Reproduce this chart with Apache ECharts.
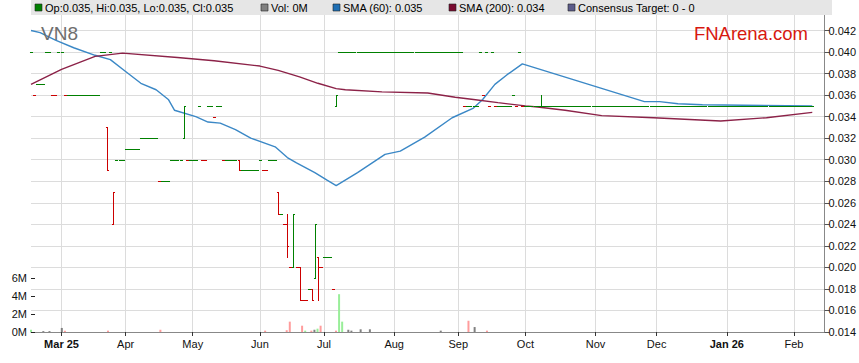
<!DOCTYPE html>
<html><head><meta charset="utf-8">
<script src="https://cdn.jsdelivr.net/npm/echarts@6/dist/echarts.min.js"></script>
<style>html,body{margin:0;padding:0;background:#fff}#c{width:859px;height:363px}</style>
</head><body><div id="c"></div>
<script>
// ---------------- DATA ----------------
// trading-day axis: weekdays from 2025-02-17 to 2026-02-16
const firstDay = '2025-02-17';
const dayCount = 261;
// month tick labels, placed on the first weekday of each month
const xTickLabels = ['Mar 25','Apr','May','Jun','Jul','Aug','Sep','Oct','Nov','Dec','Jan 26','Feb'];
const boldTickLabels = ['Mar 25','Jan 26'];
// daily prices in tenths of a cent (40 = 0.040); a number = open=high=low=close, array = [open, high, low, close]
const ohlc = [
  40, 36, 37, 37, 37,
  40, 40, 36, 36, 40,
  40, 36, 36, 36, 36,
  36, 36, 36, 36, 36,
  36, 36, 36, 40, 40,
  [33,33,29,29], 40, [24,27,24,27], 30, 30,
  30, 31, 31, 31, 31,
  31, 32, 32, 32, 32,
  32, 32, 28, 28, 28,
  28, 30, 30, 30, 30,
  [32,35,32,35], 30, 30, 30, 30,
  35, 30, 30, 35, 35,
  34, 35, 35, 30, 30,
  30, 30, 30, [30,30,29,29], 29,
  29, 29, 29, 29, 29,
  30, 29, 29, 30, 30,
  30, [27,27,25,25], 25, 24, [24,25,21,22],
  20, [20,25,20,25], 20, [20,20,17,17], 17,
  17, 18, [18,18,17,17], [19,24,19,24], [21,21,17,20],
  20, 21, 21, 21, 18,
  [35,36,35,36], 40, 40, 40, 40,
  40, 40, 40, 40, 40,
  40, 40, 40, 40, 40,
  40, 40, 40, 40, 40,
  40, 40, 40, 40, 40,
  40, 40, 40, 40, 40,
  40, 40, 40, 40, 40,
  40, 40, 40, 40, 40,
  40, 40, 35, 35, 35,
  35, 35, 40, 36, 40,
  35, 40, 35, 35, 35,
  35, 35, 35, 36, 35,
  40, 35, 35, 35, 35,
  35, 35, [35,36,35,35], 35, 35,
  35, 35, 35, 35, 35,
  35, 35, 35, 35, 35,
  35, 35, 35, 35, 35,
  35, 35, 35, 35, 35,
  35, 35, 35, 35, 35,
  35, 35, 35, 35, 35,
  35, 35, 35, 35, 35,
  35, 35, 35, 35, 35,
  35, 35, 35, 35, 35,
  35, 35, 35, 35, 35,
  35, 35, 35, 35, 35,
  35, 35, 35, 35, 35,
  35, 35, 35, 35, 35,
  35, 35, 35, 35, 35,
  35, 35, 35, 35, 35,
  35, 35, 35, 35, 35,
  35, 35, 35, 35, 35,
  35, 35
];
// bar direction per day (u = up / unchanged, d = down), one group per week
const moves = 'uduuu uuddu uduuu uuuuu uuuuu duduu uuuuu uuuuu uuduu uuuuu ' +
  'uduuu udduu duudu uuudu uuuuu udduu ududd duddd dudud duuud ' +
  'uuuuu uuuuu uuuuu uuuuu uuuuu uuuuu uuuuu uuuuu uuduu uuudu ' +
  'duduu uuuud uduuu uuuuu uuuuu uuuuu uuuuu uuuuu uuuuu uuuuu ' +
  'uuuuu uuuuu uuuuu uuuuu uuuuu uuuuu uuuuu uuuuu uuuuu uuuuu uu';
// volume in millions: [date, volume, kind]
const volume = [
  ['2025-02-17',0.25,'up'],['2025-02-21',0.1,'flat'],['2025-02-25',0.1,'flat'],
  ['2025-03-03',0.45,'flat'],['2025-03-04',0.15,'down'],['2025-03-24',0.15,'down'],
  ['2025-04-16',0.25,'down'],['2025-06-03',0.15,'down'],['2025-06-12',0.2,'down'],
  ['2025-06-13',1.15,'down'],['2025-06-19',0.7,'down'],['2025-06-20',0.15,'up'],
  ['2025-06-24',0.15,'down'],['2025-06-25',0.25,'flat'],['2025-06-26',0.37,'up'],
  ['2025-06-27',0.7,'down'],['2025-07-04',0.15,'down'],['2025-07-07',4.2,'up'],
  ['2025-07-08',1.15,'up'],['2025-07-10',0.25,'flat'],['2025-07-11',0.15,'flat'],
  ['2025-07-16',0.3,'flat'],['2025-07-21',0.3,'flat'],['2025-08-21',0.15,'flat'],
  ['2025-09-03',1.25,'down'],['2025-09-05',0.55,'flat'],['2025-09-11',0.15,'down']
];
// moving averages: [date, value]
const sma60 = [
  ['2025-02-17',0.0420],['2025-02-20',0.0418],['2025-02-27',0.0411],['2025-03-07',0.0404],
  ['2025-03-18',0.0397],['2025-03-25',0.0393],['2025-04-01',0.0382],['2025-04-08',0.0371],
  ['2025-04-15',0.0365],['2025-04-21',0.0356],['2025-04-23',0.0346],['2025-05-02',0.0340],
  ['2025-05-08',0.0335],['2025-05-14',0.0334],['2025-05-21',0.0328],['2025-05-28',0.0320],
  ['2025-06-09',0.0312],['2025-06-13',0.0302],['2025-06-18',0.0297],['2025-06-26',0.0288],
  ['2025-07-02',0.0281],['2025-07-07',0.0276],['2025-07-16',0.0288],['2025-07-29',0.0305],
  ['2025-08-05',0.0308],['2025-08-15',0.0321],['2025-08-28',0.0339],['2025-09-08',0.0348],
  ['2025-09-11',0.0356],['2025-09-17',0.0370],['2025-09-23',0.0379],['2025-09-30',0.0389],
  ['2025-11-25',0.0354],['2025-12-02',0.0354],['2025-12-10',0.0352],['2025-12-22',0.0351],
  ['2026-02-10',0.0350]
];
const sma200 = [
  ['2025-02-17',0.0370],['2025-03-03',0.0384],['2025-03-18',0.0396],['2025-03-31',0.0399],
  ['2025-04-24',0.0395],['2025-05-12',0.0392],['2025-06-02',0.0387],['2025-06-10',0.0383],
  ['2025-06-19',0.0377],['2025-06-27',0.0371],['2025-07-07',0.0366],['2025-07-10',0.0365],
  ['2025-07-28',0.0363],['2025-08-18',0.0362],['2025-08-29',0.0358],['2025-09-08',0.0356],
  ['2025-09-18',0.0353],['2025-10-01',0.0350],['2025-10-07',0.0349],['2025-10-20',0.0346],
  ['2025-11-05',0.0341],['2025-11-28',0.0339],['2025-12-30',0.0336],['2026-01-20',0.0339],
  ['2026-02-10',0.0344]
];
const legendItems = [
  {label:'Op:0.035, Hi:0.035, Lo:0.035, Cl:0.035', color:'#008000'},
  {label:'Vol: 0M', color:'#808080'},
  {label:'SMA (60): 0.035', color:'#1f6fb4'},
  {label:'SMA (200): 0.034', color:'#7a0a30'},
  {label:'Consensus Target: 0 - 0', color:'#5c5c8a'}
];
const ticker = 'VN8';
const brand = 'FNArena.com';

// ---------------- BUILD ----------------
const days = [];
(function(){
  const d = new Date(firstDay + 'T00:00:00Z');
  while (days.length < dayCount) {
    const w = d.getUTCDay();
    if (w > 0 && w < 6) days.push(d.toISOString().slice(0,10));
    d.setUTCDate(d.getUTCDate() + 1);
  }
})();
const monthStart = {};
{
  let k = 0;
  for (let i = 1; i < days.length; i++) {
    if (days[i].slice(5,7) !== days[i-1].slice(5,7)) { monthStart[i] = xTickLabels[k++]; }
  }
}
const dirs = moves.replace(/\s+/g,'');
const ohlcData = ohlc.map((v, i) => {
  const a = Array.isArray(v) ? v : [v, v, v, v];
  return [i, a[0]/1000, a[1]/1000, a[2]/1000, a[3]/1000, dirs[i] === 'd' ? 0 : 1];
});
const volMap = {};
volume.forEach(v => volMap[v[0]] = v);
const volColors = {up:'#99ee99', down:'#ff9c9c', flat:'#808080'};
const volData = days.map(d => volMap[d] ? {value: volMap[d][1], itemStyle:{color: volColors[volMap[d][2]]}} : null);

const chart = echarts.init(document.getElementById('c'), null, {renderer:'svg'});
const FONT = 'Liberation Sans, Arial, sans-serif';
const gridLeft = 31, gridRight = 27, gridBottom = 31;

const graphics = [
  {type:'rect', shape:{x:31, y:0, width:801, height:15}, style:{fill:'#e6e6e6'}, z:100}
];
const legendX = [35, 261, 333, 449, 568];
legendItems.forEach((it, k) => {
  graphics.push({type:'rect', shape:{x:legendX[k], y:4, width:7, height:7}, style:{fill:it.color, stroke:'#222', lineWidth:0.6}, z:101});
  graphics.push({type:'text', x:legendX[k] + 10, y:8, style:{text:it.label, fill:'#000', font:'11px ' + FONT, textVerticalAlign:'middle'}, z:101});
});
graphics.push({type:'text', x:41, y:33, style:{text:ticker, fill:'#6e6e6e', font:'19px ' + FONT, textVerticalAlign:'middle'}, z:50});
graphics.push({type:'text', x:808, y:33, style:{text:brand, fill:'#d7190f', font:'18.5px ' + FONT, textAlign:'right', textVerticalAlign:'middle'}, z:50});

chart.setOption({
  animation:false,
  backgroundColor:'#fff',
  grid:[
    {left:gridLeft, right:gridRight, top:9, bottom:gridBottom},
    {left:gridLeft, right:gridRight, height:63, bottom:gridBottom}
  ],
  xAxis:[
    {type:'category', data:days, boundaryGap:false, gridIndex:0,
     axisLine:{lineStyle:{color:'#888', width:1}},
     axisTick:{interval:(i)=> monthStart[i] !== undefined, alignWithLabel:true, length:4, lineStyle:{color:'#333'}},
     axisLabel:{interval:(i)=> monthStart[i] !== undefined, formatter:(v, i)=>{const t = monthStart[i]; return boldTickLabels.includes(t) ? '{b|' + t + '}' : t;},
       color:'#111', fontSize:11, fontFamily:FONT, margin:6, rich:{b:{fontWeight:'bold', fontSize:11, fontFamily:FONT, color:'#111'}}},
     splitLine:{show:true, interval:(i)=> monthStart[i] !== undefined, lineStyle:{color:'#dcdcdc', width:1}}},
    {type:'category', data:days, boundaryGap:false, gridIndex:1, show:false}
  ],
  yAxis:[
    {type:'value', gridIndex:0, position:'right', min:0.014, max:0.044, interval:0.002,
     axisLine:{show:true, lineStyle:{color:'#888'}},
     axisTick:{show:true, length:5, lineStyle:{color:'#555'}},
     axisLabel:{formatter:(v)=>v.toFixed(3), color:'#111', fontSize:11, fontFamily:FONT, margin:4, showMaxLabel:false},
     splitLine:{show:true, lineStyle:{color:'#dcdcdc', width:1}}},
    {type:'value', gridIndex:1, position:'left', min:0, max:7, interval:2,
     axisLine:{show:false},
     axisTick:{show:true, inside:true, length:4, lineStyle:{color:'#222'}, customValues:[0,2,4,6]},
     axisLabel:{formatter:(v)=>v + 'M', color:'#111', fontSize:11, fontFamily:FONT, margin:4, customValues:[0,2,4,6]},
     splitLine:{show:false}}
  ],
  graphic: graphics,
  series:[
    {type:'bar', xAxisIndex:1, yAxisIndex:1, data:volData, barWidth:2, z:1},
    {type:'line', name:'SMA60', data:sma60, symbol:'none', lineStyle:{color:'#3b88c6', width:1.4}, z:3},
    {type:'line', name:'SMA200', data:sma200, symbol:'none', lineStyle:{color:'#8c2248', width:1.4}, z:3},
    {type:'custom', name:'OHLC', data:ohlcData, encode:{x:0, y:[1,2,3,4]}, z:4,
     renderItem:(params, api)=>{
       const i = api.value(0);
       const p = (v)=> api.coord([i, v]);
       const x = Math.round(p(api.value(1))[0]) + 0.5;
       const yO = Math.round(p(api.value(1))[1]) + 0.5;
       const yH = Math.round(p(api.value(2))[1]) + 0.5;
       const yL = Math.round(p(api.value(3))[1]) + 0.5;
       const yC = Math.round(p(api.value(4))[1]) + 0.5;
       const half = api.size([1, 0])[0] / 2;
       const color = api.value(5) ? '#008000' : '#cc0000';
       const st = {stroke:color, lineWidth:1};
       return {type:'group', children:[
         {type:'line', shape:{x1:x, y1:yH - 0.5, x2:x, y2:yL + 0.5}, style:st},
         {type:'line', shape:{x1:x - half, y1:yO, x2:x, y2:yO}, style:st},
         {type:'line', shape:{x1:x, y1:yC, x2:x + half, y2:yC}, style:st}
       ]};
     }}
  ]
});
</script></body></html>
